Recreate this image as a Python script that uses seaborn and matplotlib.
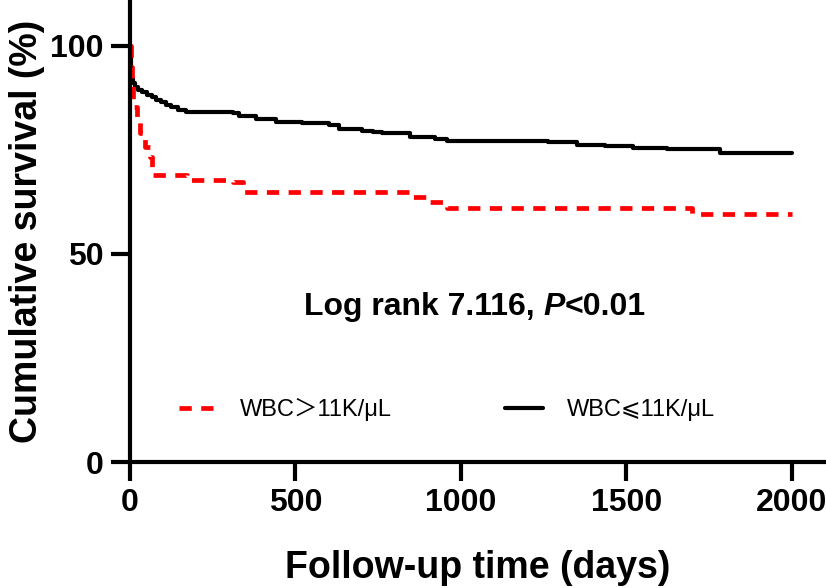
import matplotlib
matplotlib.use("Agg")
import matplotlib.pyplot as plt
import seaborn as sns
import pandas as pd

# survival steps (days, cumulative survival %)
low_days = [0, 2, 4, 6, 10, 16, 24, 35, 50, 65, 80, 95, 110, 125, 145, 170, 310, 330,
            380, 440, 520, 600, 630, 700, 735, 760, 846, 921, 957, 1263, 1350, 1435,
            1520, 1622, 1782, 2000]
low_surv = [100, 97, 94, 92, 91, 90, 89.3, 88.8, 88.2, 87.6, 87, 86.4, 85.8, 85.2, 84.6,
            84.1, 83.8, 83.1, 82.5, 81.8, 81.4, 81, 80, 79.6, 79.2, 79.0, 78.1, 77.6,
            77.2, 76.9, 76.2, 75.9, 75.5, 75.2, 74.3, 74.3]

high_days = [0, 3, 6, 9, 12, 20, 30, 45, 60, 66, 70, 172, 311, 341, 855, 906, 957,
             1698, 2000]
high_surv = [100, 95, 91, 87, 85.3, 83, 79, 75.7, 73.3, 69.5, 69.0, 67.8, 67.3, 64.9,
             63.7, 62.5, 61.1, 59.6, 59.6]

label_high = "WBC＞11K/μL"
label_low = "WBC⩽11K/μL"
x_ticks = [0, 500, 1000, 1500, 2000]
y_ticks = [0, 50, 100]

sns.set_style("ticks")
plt.rcParams["font.family"] = ["Liberation Sans", "DejaVu Sans", "Noto Sans CJK SC"]
plt.rcParams.update({"text.color": "black", "axes.labelcolor": "black",
                     "xtick.color": "black", "ytick.color": "black",
                     "axes.edgecolor": "black"})

fig = plt.figure(figsize=(8.26, 5.88), dpi=100)
ax = fig.add_axes([130 / 826, 126 / 588, 696 / 826, 462 / 588])

df_high = pd.DataFrame({"days": high_days, "surv": high_surv})
df_low = pd.DataFrame({"days": low_days, "surv": low_surv})

sns.lineplot(data=df_low, x="days", y="surv", ax=ax, color="black", linewidth=3,
             drawstyle="steps-post", estimator=None, errorbar=None, label=label_low)
sns.lineplot(data=df_high, x="days", y="surv", ax=ax, color="#ff0000", linewidth=3.4,
             drawstyle="steps-post", estimator=None, errorbar=None,
             linestyle=(0, (2.6, 2.0)), label=label_high)

ax.set_xlim(0, 2103)
ax.set_ylim(0, 111)
ax.set_xticks(x_ticks)
ax.set_yticks(y_ticks)
ax.tick_params(axis="both", length=14, width=3, pad=5, labelsize=23)
for lab in ax.get_xticklabels() + ax.get_yticklabels():
    lab.set_fontweight("bold")
for side in ["left", "bottom"]:
    ax.spines[side].set_linewidth(3)
sns.despine(ax=ax)

ax.set_xlabel("Follow-up time (days)", fontsize=27, fontweight="bold", labelpad=23)
ax.set_ylabel("Cumulative survival (%)", fontsize=27, fontweight="bold", labelpad=4)

# log rank annotation, P in italic
t1 = ax.text(525, 35.3, "Log rank 7.116, ", fontsize=23, fontweight="bold",
             ha="left", va="baseline")
t2 = ax.annotate("P", xy=(1, 0), xycoords=t1, fontsize=23, fontweight="bold",
                 fontstyle="italic", ha="left", va="bottom")
ax.annotate("<0.01", xy=(1, 0), xycoords=t2, fontsize=23, fontweight="bold",
            ha="left", va="bottom")

handles, labels = ax.get_legend_handles_labels()
order = [labels.index(label_high), labels.index(label_low)]
ax.legend([handles[i] for i in order], [labels[i] for i in order], ncol=2,
          loc="center", bbox_to_anchor=(0.455, 0.113), frameon=False, fontsize=17,
          handlelength=1.6, handletextpad=1.0, columnspacing=4.8)

fig.savefig("out.png", dpi=100)
